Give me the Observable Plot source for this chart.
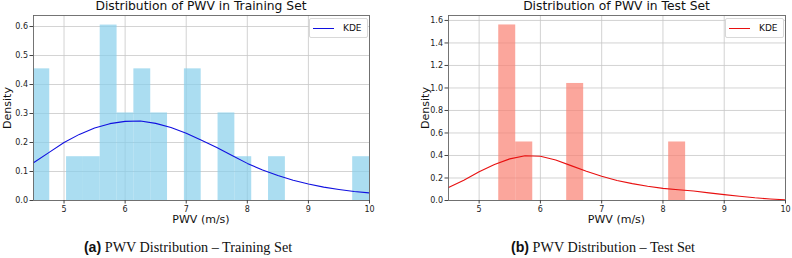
<!DOCTYPE html>
<html>
<head>
<meta charset="utf-8">
<script src="https://cdn.jsdelivr.net/npm/d3@7"></script>
<script src="https://cdn.jsdelivr.net/npm/@observablehq/plot@0.6"></script>
<style>
  html, body { margin: 0; padding: 0; background: #fff; }
  #root { position: relative; width: 792px; height: 258px; overflow: hidden; font-family: "DejaVu Sans", sans-serif; }
  .panel { position: absolute; top: 0; }
  .title { position: absolute; top: 0px; font-size: 12.3px; line-height: 12px; color: #111; white-space: nowrap; transform: translateX(-50%); }
  .xlab { position: absolute; top: 214px; font-size: 11px; line-height: 11px; color: #111; white-space: nowrap; transform: translateX(-50%); }
  .ylab { position: absolute; font-size: 11px; line-height: 11px; color: #111; white-space: nowrap; transform: translate(-50%, -50%) rotate(-90deg); }
  .legend { position: absolute; background: #fff; border: 1px solid #d8d8d8; border-radius: 2px; font-size: 9px; color: #111; display: flex; align-items: center; padding: 0 5px 0 3px; height: 20px; box-sizing: border-box; }
  .legend .sw { width: 21px; height: 0; margin-right: 9px; }
  .caption { position: absolute; top: 240px; font-family: "Liberation Serif", serif; font-size: 14.2px; line-height: 14px; color: #111; white-space: nowrap; transform: translateX(-50%); }
  .caption b { font-family: "Liberation Sans", sans-serif; }
</style>
</head>
<body>
<div id="root"></div>
<script>
// ---- Data ----
const trainEdges = [4.490, 4.766, 5.041, 5.317, 5.592, 5.868, 6.143, 6.419, 6.694, 6.970, 7.245,
                    7.521, 7.796, 8.072, 8.347, 8.623, 8.898, 9.174, 9.449, 9.725, 10.000];
const trainDensity = [0.454, 0, 0.151, 0.151, 0.605, 0.302, 0.454, 0.302, 0, 0.454,
                      0, 0.302, 0.151, 0, 0.151, 0, 0, 0, 0, 0.151];
const testEdges = [5.320, 5.597, 5.875, 6.152, 6.429, 6.706, 6.984, 7.261, 7.538, 7.815, 8.093, 8.370];
const testDensity = [1.56, 0.52, 0, 0, 1.04, 0, 0, 0, 0, 0, 0.52];

const kdeX = [4.5, 4.75, 5.0, 5.25, 5.5, 5.75, 6.0, 6.25, 6.5, 6.75, 7.0, 7.25,
              7.5, 7.75, 8.0, 8.25, 8.5, 8.75, 9.0, 9.25, 9.5, 9.75, 10.0];
const trainKde = [0.130, 0.165, 0.200, 0.228, 0.250, 0.265, 0.273, 0.274, 0.266, 0.252, 0.232, 0.208,
                  0.183, 0.155, 0.128, 0.105, 0.086, 0.070, 0.057, 0.046, 0.038, 0.031, 0.026];
const testKde = [0.115, 0.180, 0.255, 0.320, 0.370, 0.398, 0.393, 0.360, 0.310, 0.260, 0.215, 0.178,
                 0.150, 0.127, 0.108, 0.096, 0.084, 0.068, 0.052, 0.038, 0.024, 0.014, 0.006];

const xTicks = [5, 6, 7, 8, 9, 10];
const trainYTicks = [0.0, 0.1, 0.2, 0.3, 0.4, 0.5, 0.6];
const testYTicks = [0.0, 0.2, 0.4, 0.6, 0.8, 1.0, 1.2, 1.4, 1.6];

const panels = [
  {
    left: 0, width: 396, marginLeft: 33, marginRight: 27, yMax: 0.638,
    edges: trainEdges, density: trainDensity, kde: trainKde, yTicks: trainYTicks,
    fill: "#87ceeb", line: "#1010e0",
    title: "Distribution of PWV in Training Set",
    caption: "<b>(a)</b> PWV Distribution – Training Set",
    legendLeft: 309, ylabX: 7, capX: 188
  },
  {
    left: 400, width: 392, marginLeft: 48, marginRight: 7, yMax: 1.644,
    edges: testEdges, density: testDensity, kde: testKde, yTicks: testYTicks,
    fill: "#fa8072", line: "#e81010",
    title: "Distribution of PWV in Test Set",
    caption: "<b>(b)</b> PWV Distribution – Test Set",
    legendLeft: 725, ylabX: 425, capX: 603
  }
];

const root = document.getElementById("root");
const H = 228, MT = 15, MB = 28;

for (const p of panels) {
  const bins = p.density.map((d, i) => ({x1: p.edges[i], x2: p.edges[i + 1], y: d}));
  const curve = kdeX.map((x, i) => ({x, y: p.kde[i]}));
  const chart = Plot.plot({
    width: p.width,
    height: H,
    marginLeft: p.marginLeft,
    marginRight: p.marginRight,
    marginTop: MT,
    marginBottom: MB,
    style: {fontFamily: "DejaVu Sans, sans-serif", fontSize: "8px", color: "#222", background: "white"},
    x: {domain: [4.5, 10], label: null},
    y: {domain: [0, p.yMax], label: null},
    marks: [
      Plot.gridX(xTicks, {stroke: "#c8c8c8", strokeOpacity: 1, strokeWidth: 0.8}),
      Plot.gridY(p.yTicks, {stroke: "#c8c8c8", strokeOpacity: 1, strokeWidth: 0.8}),
      Plot.rectY(bins.filter(b => b.y > 0), {x1: "x1", x2: "x2", y: "y", fill: p.fill, fillOpacity: 0.7, clip: true}),
      Plot.line(curve, {x: "x", y: "y", stroke: p.line, strokeWidth: 1.1, clip: true}),
      Plot.frame({stroke: "#666", strokeWidth: 0.9}),
      Plot.axisX(xTicks, {tickSize: 3.5, tickPadding: 2, stroke: "#444", label: null, tickFormat: d => String(d)}),
      Plot.axisY(p.yTicks, {tickSize: 3.5, tickPadding: 2, stroke: "#444", label: null, tickFormat: d3.format(".1f")})
    ]
  });
  const wrap = document.createElement("div");
  wrap.className = "panel";
  wrap.style.left = p.left + "px";
  wrap.appendChild(chart);
  root.appendChild(wrap);

  const cx = p.left + p.marginLeft + (p.width - p.marginLeft - p.marginRight) / 2;

  const t = document.createElement("div");
  t.className = "title"; t.textContent = p.title; t.style.left = cx + "px";
  root.appendChild(t);

  const xl = document.createElement("div");
  xl.className = "xlab"; xl.textContent = "PWV (m/s)"; xl.style.left = cx + "px";
  root.appendChild(xl);

  const yl = document.createElement("div");
  yl.className = "ylab"; yl.textContent = "Density";
  yl.style.left = p.ylabX + "px"; yl.style.top = (MT + (H - MT - MB) / 2) + "px";
  root.appendChild(yl);

  const lg = document.createElement("div");
  lg.className = "legend";
  lg.style.left = p.legendLeft + "px"; lg.style.top = "18px";
  lg.innerHTML = `<span class="sw" style="border-top:1.3px solid ${p.line}"></span><span>KDE</span>`;
  root.appendChild(lg);

  const cap = document.createElement("div");
  cap.className = "caption"; cap.innerHTML = p.caption;
  cap.style.left = p.capX + "px";
  root.appendChild(cap);
}
</script>
</body>
</html>
